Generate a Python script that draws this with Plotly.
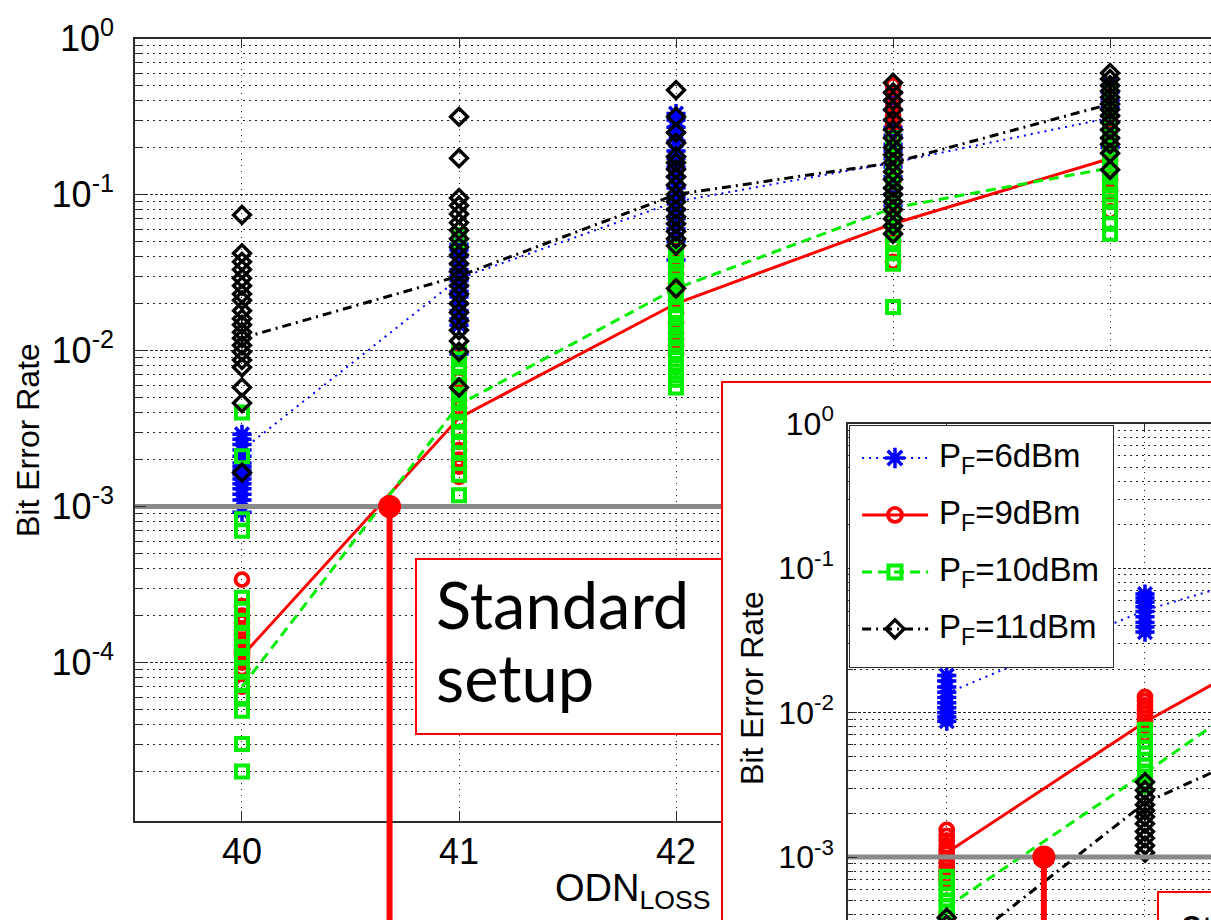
import plotly.graph_objects as go

W, H = 1211, 920

# ---------------- data ----------------
odn_loss = [40, 41, 42, 43, 44]
fec_limit = 1e-3

pf6_samples = [
    [0.0029, 0.0027, 0.0025, 0.0023, 0.0021, 0.0019, 0.0018, 0.0017, 0.0016, 0.0015, 0.0014, 0.0013, 0.0012, 0.0011, 0.00092],
    [0.048, 0.044, 0.040, 0.036, 0.033, 0.030, 0.028, 0.026, 0.024, 0.022, 0.020, 0.018, 0.016, 0.0145, 0.0095],
    [0.33, 0.30, 0.27, 0.25, 0.22, 0.19, 0.17, 0.15, 0.13, 0.11, 0.095, 0.08, 0.07, 0.06, 0.05, 0.038],
    [0.45, 0.40, 0.35, 0.30, 0.27, 0.24, 0.21, 0.19, 0.17, 0.15, 0.13, 0.11, 0.10, 0.085],
    [0.50, 0.45, 0.40, 0.36, 0.32, 0.29, 0.26, 0.23, 0.20],
]
pf6_mean = [0.0023, 0.029, 0.090, 0.16, 0.31]

pf9_samples = [
    [0.00034, 0.00023, 0.00020, 0.00018, 0.00016, 0.00015, 0.00014, 0.00013, 0.00012, 0.000115, 0.00011, 0.00010, 0.000092, 0.000086, 0.00007],
    [0.009, 0.0078, 0.0065, 0.0055, 0.0048, 0.0043, 0.0036, 0.0030, 0.0026, 0.0023, 0.0020, 0.0018, 0.00155],
    [0.045, 0.040, 0.035, 0.031, 0.027, 0.024, 0.021, 0.0174, 0.015, 0.013, 0.0118, 0.0107, 0.0095],
    [0.50, 0.45, 0.40, 0.36, 0.32, 0.28, 0.24, 0.20, 0.17, 0.14, 0.12, 0.10, 0.085, 0.07, 0.06, 0.05, 0.037],
    [0.45, 0.40, 0.35, 0.30, 0.26, 0.22, 0.19, 0.165, 0.145, 0.125, 0.105, 0.09, 0.078],
]
pf9_mean = [0.00011, 0.0037, 0.020, 0.065, 0.17]

pf10_samples = [
    [0.0040, 0.0021, 0.00083, 0.00070, 0.00026, 0.00022, 0.000185, 0.00015, 0.000124, 0.00011, 0.00009, 0.000073, 0.00006, 0.000049, 0.00003, 0.00002],
    [0.055, 0.050, 0.0097, 0.0088, 0.0078, 0.0068, 0.0060, 0.0052, 0.0046, 0.0040, 0.0035, 0.0030, 0.0026, 0.0022, 0.0019, 0.0016, 0.00118],
    [0.046, 0.041, 0.036, 0.032, 0.028, 0.025, 0.022, 0.0195, 0.017, 0.015, 0.0135, 0.012, 0.0105, 0.0093, 0.0082, 0.0073, 0.0065, 0.0058],
    [0.23, 0.20, 0.175, 0.155, 0.135, 0.12, 0.105, 0.092, 0.08, 0.07, 0.062, 0.055, 0.048, 0.042, 0.036, 0.019],
    [0.45, 0.40, 0.35, 0.31, 0.27, 0.24, 0.21, 0.185, 0.165, 0.145, 0.13, 0.115, 0.10, 0.09, 0.077, 0.065, 0.056],
]
pf10_mean = [0.00007, 0.0045, 0.025, 0.082, 0.148]

pf11_samples = [
    [0.074, 0.042, 0.037, 0.033, 0.029, 0.026, 0.023, 0.021, 0.018, 0.016, 0.0146, 0.0131, 0.012, 0.0108, 0.0098, 0.0087, 0.0078, 0.0058, 0.0046, 0.00165],
    [0.315, 0.171, 0.095, 0.085, 0.075, 0.066, 0.059, 0.052, 0.046, 0.041, 0.036, 0.032, 0.029, 0.026, 0.023, 0.020, 0.0175, 0.0155, 0.0135, 0.0115, 0.0098, 0.0058],
    [0.467, 0.315, 0.25, 0.214, 0.175, 0.16, 0.145, 0.13, 0.115, 0.10, 0.09, 0.08, 0.072, 0.065, 0.058, 0.052, 0.047, 0.025],
    [0.52, 0.45, 0.40, 0.35, 0.30, 0.26, 0.23, 0.20, 0.18, 0.16, 0.14, 0.125, 0.11, 0.10, 0.09, 0.08, 0.07, 0.063, 0.056],
    [0.60, 0.55, 0.50, 0.46, 0.42, 0.38, 0.35, 0.32, 0.29, 0.26, 0.23, 0.21, 0.184, 0.144],
]
pf11_mean = [0.012, 0.030, 0.10, 0.16, 0.38]

crossing_main = 40.68

# inset (second configuration)
inset_loss = [40, 41, 42]
ins_pf6_samples = [
    [0.018, 0.0165, 0.015, 0.0138, 0.0127, 0.0117, 0.0108, 0.010, 0.0093, 0.0087],
    [0.066, 0.062, 0.058, 0.054, 0.050, 0.046, 0.042, 0.039, 0.036],
]
ins_pf6_mean = [0.0136, 0.051, 0.13]
ins_pf9_samples = [
    [0.00154, 0.0014, 0.0013, 0.0012, 0.00112, 0.00105, 0.00098, 0.00092, 0.00086, 0.0008, 0.00075, 0.0007, 0.00066],
    [0.0128, 0.012, 0.0112, 0.0105, 0.0098, 0.0092, 0.0086, 0.0081, 0.0071],
]
ins_pf9_mean = [0.00107, 0.0086, 0.05]
ins_pf10_samples = [
    [0.00073, 0.00066, 0.0006, 0.00055, 0.0005, 0.00046, 0.00042, 0.00038, 0.00035, 0.00032, 0.00029],
    [0.0076, 0.0069, 0.0063, 0.0057, 0.0052, 0.0047, 0.0043, 0.0039, 0.0036, 0.0033, 0.0031],
]
ins_pf10_mean = [0.00045, 0.0038, 0.035]
ins_pf11_samples = [
    [0.00038, 0.00034, 0.0003, 0.00027, 0.00024, 0.00021],
    [0.0033, 0.0029, 0.0026, 0.0023, 0.0021, 0.0019, 0.0017, 0.0015, 0.00135, 0.0012, 0.00107],
]
ins_pf11_mean = [0.0002, 0.00237, 0.0099]

crossing_inset = 40.49

series_names = ["P<sub>F</sub>=6dBm", "P<sub>F</sub>=9dBm", "P<sub>F</sub>=10dBm", "P<sub>F</sub>=11dBm"]
main_ytick_vals = [1, 1e-1, 1e-2, 1e-3, 1e-4]
main_ytick_text = ["10<sup>0</sup>", "10<sup>-1</sup>", "10<sup>-2</sup>", "10<sup>-3</sup>", "10<sup>-4</sup>"]
inset_ytick_vals = [1, 1e-1, 1e-2, 1e-3]
inset_ytick_text = ["10<sup>0</sup>", "10<sup>-1</sup>", "10<sup>-2</sup>", "10<sup>-3</sup>"]

# ---------------- styles ----------------
FONT = "Liberation Sans, Arial, sans-serif"
AXC = "#2b2b2b"
GRIDC = "#222222"
MINOR_DASH = "1.5px,4.5px"
MAJOR_DASH = "3px,2px"
styles = [
    dict(color="#0000ff", symbol="asterisk-open", dash="2px,5px", width=2, msize=16, mlw=3.5),
    dict(color="#ff0000", symbol="circle-open", dash="solid", width=3, msize=13, mlw=3.8),
    dict(color="#00ee00", symbol="square-open", dash="10px,6px", width=3, msize=12, mlw=4),
    dict(color="#000000", symbol="diamond-open", dash="9px,5px,2px,5px", width=3, msize=13, mlw=3.4),
]

fig = go.Figure()


def flatten(xvals, groups):
    xs, ys = [], []
    for x, vals in zip(xvals, groups):
        xs += [x] * len(vals)
        ys += vals
    return xs, ys


def marker_style(st, grow=0):
    return dict(symbol=st["symbol"], size=st["msize"] + grow, color=st["color"],
                line=dict(width=st["mlw"], color=st["color"]))


def add_panel(xvals, sample_sets, mean_sets, xa, ya):
    for st, samples, mean in zip(styles, sample_sets, mean_sets):
        xs, ys = flatten(xvals, samples)
        fig.add_trace(go.Scatter(x=xs, y=ys, mode="markers", xaxis=xa, yaxis=ya, hoverinfo="skip",
                                 marker=marker_style(st)))
        fig.add_trace(go.Scatter(x=xvals, y=mean, mode="lines", xaxis=xa, yaxis=ya, hoverinfo="skip",
                                 line=dict(color=st["color"], width=st["width"], dash=st["dash"])))


# ---------------- main panel ----------------
main_xrange = [39.507, 44.465]
main_yrange = [-5.016, 0]
add_panel(odn_loss, [pf6_samples, pf9_samples, pf10_samples, pf11_samples],
          [pf6_mean, pf9_mean, pf10_mean, pf11_mean], "x", "y")
fig.add_trace(go.Scatter(x=main_xrange, y=[fec_limit, fec_limit], mode="lines",
                         line=dict(color="#8a8a8a", width=5), hoverinfo="skip"))
fig.add_trace(go.Scatter(x=[crossing_main], y=[fec_limit], mode="markers",
                         marker=dict(size=23, color="#ff0000"), hoverinfo="skip"))

# placeholders so the frame-only subplots exist
for xa, ya in [("x2", "y2"), ("x3", "y3"), ("x5", "y5")]:
    fig.add_trace(go.Scatter(x=[None], y=[None], xaxis=xa, yaxis=ya, hoverinfo="skip"))

# ---------------- inset panel ----------------
inset_xrange = [39.502, 41.333]
inset_yrange = [-3.436, 0]
add_panel(inset_loss, [ins_pf6_samples, ins_pf9_samples, ins_pf10_samples, ins_pf11_samples],
          [ins_pf6_mean, ins_pf9_mean, ins_pf10_mean, ins_pf11_mean], "x4", "y4")
fig.add_trace(go.Scatter(x=inset_xrange, y=[fec_limit, fec_limit], mode="lines", xaxis="x4", yaxis="y4",
                         line=dict(color="#8a8a8a", width=5), hoverinfo="skip"))
fig.add_trace(go.Scatter(x=[crossing_inset], y=[fec_limit], mode="markers", xaxis="x4", yaxis="y4",
                         marker=dict(size=23, color="#ff0000"), hoverinfo="skip"))

# ---------------- legend panel ----------------
legend_rows = [0.867, 0.631, 0.394, 0.158]
for st, yrow in zip(styles, legend_rows):
    fig.add_trace(go.Scatter(x=[0.046, 0.297], y=[yrow, yrow], mode="lines", xaxis="x5", yaxis="y5",
                             line=dict(color=st["color"], width=st["width"], dash=st["dash"]), hoverinfo="skip"))
    fig.add_trace(go.Scatter(x=[0.171], y=[yrow], mode="markers", xaxis="x5", yaxis="y5", hoverinfo="skip",
                             marker=marker_style(st, grow=1)))


def log_minor(lo, hi):
    vals = []
    for e in range(lo, hi):
        vals += [k * 10.0 ** e for k in range(2, 10)]
    return vals


def grid_axis(**kw):
    base = dict(showline=True, linecolor=AXC, linewidth=1.5, ticks="inside", tickcolor=AXC,
                tickwidth=1.3, showgrid=True, gridcolor=GRIDC, gridwidth=1, griddash=MINOR_DASH,
                zeroline=False, tickfont=dict(family=FONT, size=36, color="black"))
    base.update(kw)
    return base


def frame_axis(**kw):
    base = dict(range=[0, 1], showgrid=False, zeroline=False, showticklabels=False, ticks="",
                showline=True, fixedrange=True)
    base.update(kw)
    return base


fig.update_layout(
    width=W, height=H, margin=dict(l=0, r=0, t=0, b=0, autoexpand=False),
    paper_bgcolor="white", plot_bgcolor="white", showlegend=False,
    xaxis=grid_axis(domain=[135 / W, 1], range=main_xrange, anchor="y",
                    tickvals=odn_loss, ticklen=10, mirror="ticks", ticklabelstandoff=-2),
    yaxis=grid_axis(type="log", domain=[1 - 821 / H, 1 - 38.5 / H], range=main_yrange, anchor="x",
                    tickvals=main_ytick_vals, ticktext=main_ytick_text, ticklen=11,
                    griddash=MAJOR_DASH, ticklabelstandoff=12,
                    minor=dict(tickvals=log_minor(-5, 0), ticks="inside", ticklen=6, tickcolor=AXC,
                               showgrid=True, gridcolor=GRIDC, griddash=MINOR_DASH, gridwidth=1)),
    # "Standard setup" callout frame
    xaxis2=frame_axis(domain=[417 / W, 722.5 / W], anchor="y2", mirror=True, linecolor="#ff0000", linewidth=1.6),
    yaxis2=frame_axis(domain=[1 - 733 / H, 1 - 560 / H], anchor="x2", mirror=True, linecolor="#ff0000", linewidth=1.6),
    # inset frame
    xaxis3=frame_axis(domain=[722.5 / W, 1], anchor="y3", side="top", linecolor="#ff0000", linewidth=2),
    yaxis3=frame_axis(domain=[0, 1 - 383 / H], anchor="x3", linecolor="#ff0000", linewidth=2),
    # inset axes
    xaxis4=grid_axis(domain=[848 / W, 1], range=inset_xrange, anchor="y4", side="top",
                     tickvals=[40, 41], showticklabels=False, ticklen=9),
    yaxis4=grid_axis(type="log", domain=[0, 1 - 423.5 / H], range=inset_yrange, anchor="x4",
                     tickvals=inset_ytick_vals, ticktext=inset_ytick_text, ticklen=9,
                     griddash=MAJOR_DASH, ticklabelstandoff=6,
                     tickfont=dict(family=FONT, size=32, color="black"),
                     minor=dict(tickvals=log_minor(-4, 0), ticks="inside", ticklen=5, tickcolor=AXC,
                                showgrid=True, gridcolor=GRIDC, griddash=MINOR_DASH, gridwidth=1)),
    # legend box
    xaxis5=frame_axis(domain=[850 / W, 1113 / W], anchor="y5", mirror=True, linecolor=AXC, linewidth=1.3),
    yaxis5=frame_axis(domain=[1 - 667 / H, 1 - 426 / H], anchor="x5", mirror=True, linecolor=AXC, linewidth=1.3),
)

red_line = dict(color="#ff0000", width=6)
fig.add_shape(type="line", xref="x", yref="y", x0=crossing_main, x1=crossing_main,
              y0=fec_limit, y1=1e-9, line=red_line, layer="above")
fig.add_shape(type="line", xref="x", yref="paper", x0=crossing_main, x1=crossing_main,
              y0=-0.05, y1=1 - 821 / H, line=red_line, layer="above")
fig.add_shape(type="line", xref="x4", yref="y4", x0=crossing_inset, x1=crossing_inset,
              y0=fec_limit, y1=1e-9, line=red_line, layer="above")
# inset callout frame (cut by the page edge)
fig.add_shape(type="rect", xref="paper", yref="paper", x0=1158 / W, x1=1.2, y0=-0.2, y1=1 - 892 / H,
              line=dict(color="#ff0000", width=2), fillcolor="white", layer="above")

ann = []
ann.append(dict(text="Bit Error Rate", x=28 / W, y=1 - 440 / H, textangle=-90, xanchor="center",
                font=dict(family=FONT, size=32, color="black")))
ann.append(dict(text="Bit Error Rate", x=752 / W, y=1 - 787 / H, textangle=-90, xanchor="center",
                font=dict(family=FONT, size=32, color="black")))
ann.append(dict(text="ODN<sub>LOSS</sub>", x=553 / W, y=1 - 891 / H, xanchor="left", yanchor="middle",
                font=dict(family=FONT, size=38, color="black")))
ann.append(dict(text="Standard", x=434 / W, y=1 - 604 / H, xanchor="left", yanchor="middle",
                font=dict(family="Lato, sans-serif", size=65, color="black")))
ann.append(dict(text="setup", x=434 / W, y=1 - 677 / H, xanchor="left", yanchor="middle",
                font=dict(family="Lato, sans-serif", size=65, color="black")))
ann.append(dict(text="Standard", x=1178 / W, y=1 - 904 / H, xanchor="left", yanchor="top",
                font=dict(family="Lato, sans-serif", size=40, color="black")))
for name, yrow in zip(series_names, legend_rows):
    ann.append(dict(text=name, x=0.331, y=yrow, xref="x5", yref="y5", xanchor="left", yanchor="middle",
                    font=dict(family=FONT, size=33, color="black")))
for a in ann:
    a.setdefault("xref", "paper")
    a.setdefault("yref", "paper")
    a["showarrow"] = False
    fig.add_annotation(**a)

fig.write_html("out.html")
